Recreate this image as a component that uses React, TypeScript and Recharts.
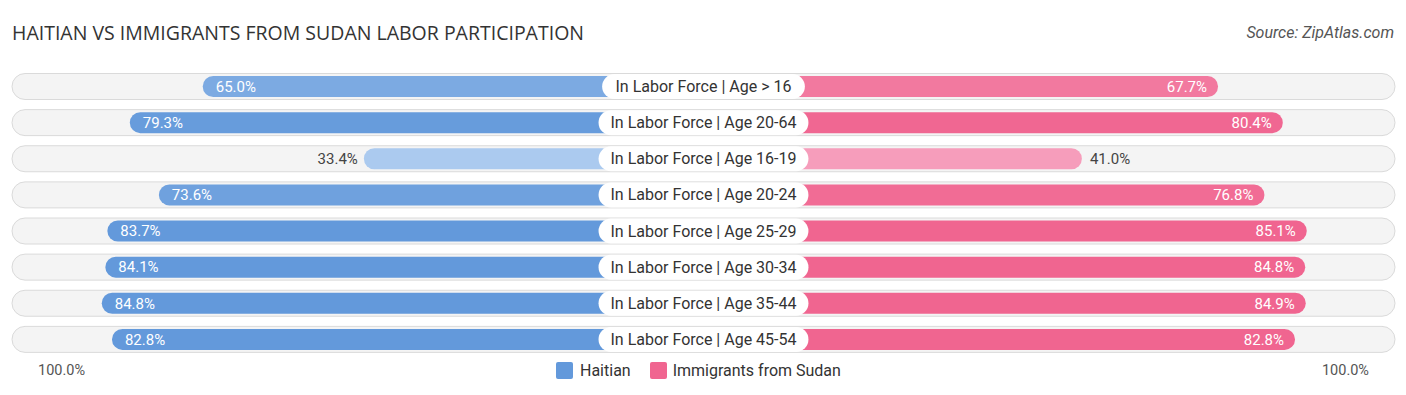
import React from 'react';
import { BarChart, Bar, XAxis, YAxis, LabelList, Cell } from 'recharts';

// rows, top to bottom
const categories = [
  'In Labor Force | Age > 16',
  'In Labor Force | Age 20-64',
  'In Labor Force | Age 16-19',
  'In Labor Force | Age 20-24',
  'In Labor Force | Age 25-29',
  'In Labor Force | Age 30-34',
  'In Labor Force | Age 35-44',
  'In Labor Force | Age 45-54',
];
const haitian = [65.0, 79.3, 33.4, 73.6, 83.7, 84.1, 84.8, 82.8];
const sudan = [67.7, 80.4, 41.0, 76.8, 85.1, 84.8, 84.9, 82.8];

const seriesNames = ['Haitian', 'Immigrants from Sudan'];
const axisLabel = '100.0%';

// bars start from behind the centre label, so every bar carries a fixed offset
const OFFSET = 33.2;
const HALF = 135.6;

const data = categories.map((name, i) => ({
  name,
  haitian: haitian[i],
  sudan: sudan[i],
  left: -(OFFSET + haitian[i]),
  right: OFFSET + sudan[i],
}));

const FONT = 'Roboto, "Noto Sans", sans-serif';

const mix = (a: number[], b: number[], t: number) =>
  `rgb(${a.map((c, i) => Math.round(c + (b[i] - c) * t)).join(',')})`;

const shade = (v: number, light: number[], full: number[]) => {
  const t = Math.max(0, Math.min(1, (v - 30) / 52));
  return mix(light, full, t);
};

const BLUE_LIGHT = [176, 205, 240];
const BLUE = [99, 153, 219];
const PINK_LIGHT = [248, 172, 198];
const PINK = [240, 101, 144];

const renderPill = (props: any) => {
  const { x, y, width, height } = props;
  return (
    <rect
      x={x}
      y={y - 2.5}
      width={width}
      height={height + 5}
      rx={13}
      ry={13}
      fill="#f4f4f4"
      stroke="#dadada"
      strokeWidth={1}
    />
  );
};

const renderLeftValue = (props: any) => {
  const { x, y, width, height, value } = props;
  const outer = Math.min(x, x + width);
  const cy = y + height / 2;
  const inside = value > 50;
  return (
    <text
      x={inside ? outer + 13 : outer - 6}
      y={cy}
      dy="0.35em"
      textAnchor={inside ? 'start' : 'end'}
      fontSize={15}
      fontFamily={FONT}
      fill={inside ? '#ffffff' : '#444'}
    >
      {value.toFixed(1)}%
    </text>
  );
};

const renderRightValue = (props: any) => {
  const { x, y, width, height, value } = props;
  const outer = Math.max(x, x + width);
  const cy = y + height / 2;
  const inside = value > 50;
  return (
    <text
      x={inside ? outer - 11 : outer + 8}
      y={cy}
      dy="0.35em"
      textAnchor={inside ? 'end' : 'start'}
      fontSize={15}
      fontFamily={FONT}
      fill={inside ? '#ffffff' : '#444'}
    >
      {value.toFixed(1)}%
    </text>
  );
};

const renderCenter = (props: any) => {
  const { x, y, height, value } = props;
  const cy = y + height / 2;
  const w = String(value).length * 7.15 + 24;
  return (
    <g>
      <rect x={x - w / 2} y={cy - 12.5} width={w} height={25} rx={12.5} ry={12.5} fill="#ffffff" />
      <text x={x} y={cy} dy="0.35em" textAnchor="middle" fontSize={16} fontFamily={FONT} fill="#333">
        {value}
      </text>
    </g>
  );
};

export default function App() {
  return (
    <div style={{ position: 'absolute', left: 0, top: 0, width: 1406, height: 395, background: '#fff' }}>
      <div
        style={{
          position: 'absolute',
          left: 12,
          top: 19,
          fontFamily: '"Open Sans", Roboto, sans-serif',
          fontSize: 19.5,
          color: '#333',
        }}
      >
        HAITIAN VS IMMIGRANTS FROM SUDAN LABOR PARTICIPATION
      </div>
      <div
        style={{
          position: 'absolute',
          right: 12,
          top: 23,
          fontFamily: FONT,
          fontSize: 16,
          fontStyle: 'italic',
          color: '#555',
        }}
      >
        Source: ZipAtlas.com
      </div>
      <BarChart
        width={1406}
        height={395}
        data={data}
        layout="vertical"
        stackOffset="sign"
        barSize={21}
        margin={{ top: 68, right: 11, bottom: 38, left: 12 }}
      >
        <XAxis type="number" hide domain={[-HALF, HALF]} allowDataOverflow />
        <YAxis type="category" dataKey="name" hide />
        <Bar
          dataKey="left"
          stackId="a"
          radius={10.5}
          background={renderPill}
          isAnimationActive={false}
        >
          {data.map((d, i) => (
            <Cell key={i} fill={shade(d.haitian, BLUE_LIGHT, BLUE)} />
          ))}
          <LabelList dataKey="haitian" content={renderLeftValue} />
        </Bar>
        <Bar dataKey="right" stackId="a" radius={10.5} isAnimationActive={false}>
          {data.map((d, i) => (
            <Cell key={i} fill={shade(d.sudan, PINK_LIGHT, PINK)} />
          ))}
          <LabelList dataKey="sudan" content={renderRightValue} />
          <LabelList dataKey="name" content={renderCenter} />
        </Bar>
      </BarChart>
      <div
        style={{
          position: 'absolute',
          left: 0,
          top: 361,
          width: 1406,
          height: 22,
          fontFamily: FONT,
          fontSize: 16,
          color: '#333',
        }}
      >
        <span style={{ position: 'absolute', left: 38, top: 1, fontSize: 14.5, color: '#555' }}>{axisLabel}</span>
        <span style={{ position: 'absolute', right: 37, top: 1, fontSize: 14.5, color: '#555' }}>{axisLabel}</span>
        <div style={{ position: 'absolute', left: 556, top: 0, display: 'flex', alignItems: 'center' }}>
          <span style={{ width: 17, height: 17, borderRadius: 2, background: mix(BLUE, BLUE, 0), marginRight: 7 }} />
          <span style={{ marginRight: 19 }}>{seriesNames[0]}</span>
          <span style={{ width: 17, height: 17, borderRadius: 2, background: mix(PINK, PINK, 0), marginRight: 6 }} />
          <span>{seriesNames[1]}</span>
        </div>
      </div>
    </div>
  );
}
